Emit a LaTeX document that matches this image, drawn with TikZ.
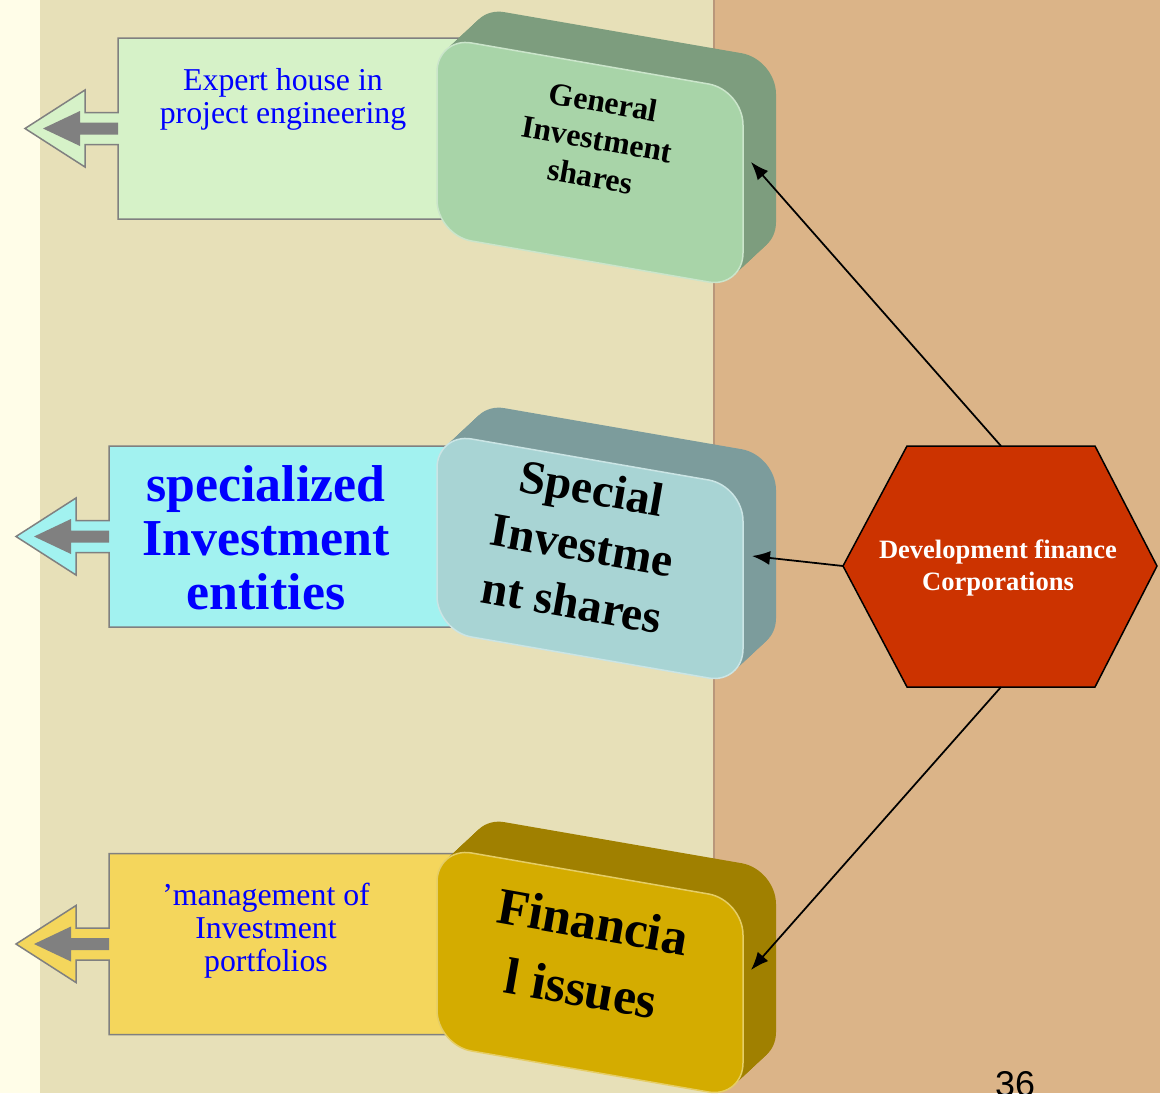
\documentclass[tikz,border=0pt]{standalone}
\usepackage{fontspec}
\setmainfont{Liberation Serif}
\newfontfamily\pagefont{Liberation Sans}
\usetikzlibrary{arrows.meta}

\definecolor{cream}{HTML}{FFFDE8}
\definecolor{beige}{HTML}{E7E0B8}
\definecolor{tan}{HTML}{DBB488}
\definecolor{seam}{HTML}{B9977A}
\definecolor{greenface}{HTML}{A8D4A8}
\definecolor{greenside}{HTML}{7D9D7E}
\definecolor{cyanface}{HTML}{A8D4D4}
\definecolor{cyanside}{HTML}{7C9C9C}
\definecolor{goldface}{HTML}{D4AC00}
\definecolor{goldside}{HTML}{A08000}
\definecolor{greenpanel}{HTML}{D6F2C8}
\definecolor{cyanpanel}{HTML}{A2F2F0}
\definecolor{goldpanel}{HTML}{F4D65C}
\definecolor{hexred}{HTML}{CC3300}
\definecolor{panelline}{HTML}{808080}

\begin{document}
\begin{tikzpicture}[x=0.02cm,y=-0.02cm,
  paneltext/.style={text=blue,align=center,inner sep=0pt},
  slabtext/.style={align=center,inner sep=0pt,rotate=-10,font=\bfseries},
  link/.style={-{Latex[length=0.36cm,width=0.28cm]},line width=0.035cm}]
  % Parameters
  \def\slabw{306} % width of a box front
  \def\slabh{198} % height of a box front
  \def\depthx{33} % extrusion to the right
  \def\depthy{-36.5} % extrusion upwards (before slant)

  % Panel with an arrow on its left: left x, middle y, fill
  \def\panel#1#2#3{%
    \filldraw[fill=#3,draw=panelline,line width=0.03cm]
      ({#1},{#2-90.5}) -- (470,{#2-90.5}) -- (470,{#2+90.5}) -- ({#1},{#2+90.5})
      -- ({#1},{#2+16}) -- ({#1-33},{#2+16}) -- ({#1-33},{#2+38.5}) -- ({#1-93},{#2})
      -- ({#1-33},{#2-38.5}) -- ({#1-33},{#2-16}) -- ({#1},{#2-16}) -- cycle;
    \fill[panelline] ({#1},{#2-6}) -- ({#1-38},{#2-6}) -- ({#1-38},{#2-17.5}) -- ({#1-75},{#2})
      -- ({#1-38},{#2+17.5}) -- ({#1-38},{#2+6}) -- ({#1},{#2+6}) -- cycle;}

  % Box in 3D: top left corner, front colour, side colour
  \def\slab#1#2#3{%
    \begin{scope}[shift={#1},yslant=-0.173]
      \foreach \s in {20,...,1}
        \fill[#3,rounded corners=0.7cm] ({\depthx*\s/20},{\depthy*\s/20}) rectangle ++(\slabw,\slabh);
      \filldraw[fill=#2,draw=#2!60!white,line width=0.03cm,rounded corners=0.7cm] (0,0) rectangle (\slabw,\slabh);
    \end{scope}}

  \clip (0,0) rectangle (1160,1093);
  \useasboundingbox (0,0) rectangle (1160,1093);

  % Background
  \fill[cream] (0,0) rectangle (40,1093);
  \fill[beige] (40,0) rectangle (714,1093);
  \fill[tan] (714,0) rectangle (1160,1093);
  \draw[seam,line width=0.05cm] (714,0) -- (714,1093);

  % Panels
  \panel{118}{128.5}{greenpanel}
  \panel{109}{536.5}{cyanpanel}
  \panel{109}{944}{goldpanel}

  \node[paneltext,font=\fontsize{18.1}{18.7}\selectfont] (expert) at (283,99)
    {Expert house in\\project engineering};
  \node[paneltext,font=\bfseries\fontsize{29.5}{30.6}\selectfont] (entities) at (266,538)
    {specialized\\Investment\\entities};
  \node[paneltext,font=\fontsize{18.1}{18.7}\selectfont] (portfolios) at (266,931)
    {’management of\\Investment\\portfolios};

  % Boxes
  \slab{(437,37)}{greenface}{greenside}
  \slab{(437,433)}{cyanface}{cyanside}
  \slab{(437,847)}{goldface}{goldside}

  \node[slabtext,font=\bfseries\fontsize{18.1}{21.5}\selectfont] (general) at (597,139)
    {General\\Investment\\shares};
  \node[slabtext,font=\bfseries\fontsize{27}{33}\selectfont] (special) at (582,545)
    {Special\\Investme\\nt shares};
  \node[slabtext,font=\bfseries\fontsize{29.4}{38.5}\selectfont] (financial) at (587,955)
    {Financia\\l issues};

  \coordinate (gis) at (751,162);
  \coordinate (sis) at (752,556);
  \coordinate (fis) at (751,970);

  % Hexagon
  \filldraw[fill=hexred,draw=black,line width=0.03cm]
    (907,446) -- (1095,446) -- (1157,566) -- (1095,687) -- (907,687) -- (843,566) -- cycle;
  \node[align=center,inner sep=0pt,text=white,font=\bfseries\fontsize{15.1}{18.1}\selectfont] (dfc) at (998,568)
    {Development finance\\Corporations};
  \coordinate (hextop) at (1001,446);
  \coordinate (hexleft) at (843,566);
  \coordinate (hexbot) at (1001,687);

  % Links
  \draw[link] (hextop) -- (gis);
  \draw[link] (hexleft) -- (sis);
  \draw[link] (hexbot) -- (fis);

  \node[anchor=base,inner sep=0pt,font=\pagefont\fontsize{20.4}{20.4}\selectfont] (pnum) at (1015,1096) {36};
\end{tikzpicture}
\end{document}
